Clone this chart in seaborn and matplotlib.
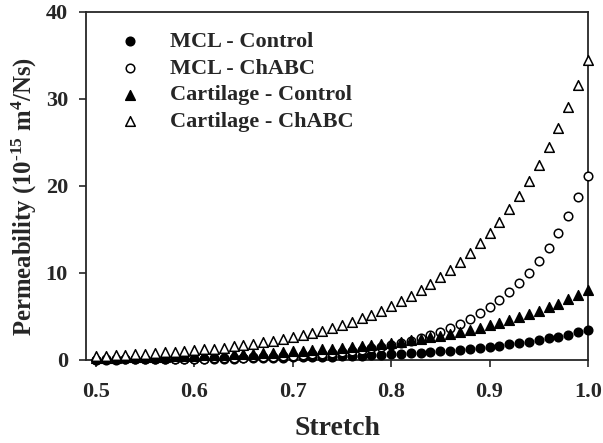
import matplotlib
matplotlib.use("Agg")
import matplotlib.pyplot as plt
import seaborn as sns
import pandas as pd

stretch = [0.50, 0.51, 0.52, 0.53, 0.54, 0.55, 0.56, 0.57, 0.58, 0.59,
           0.60, 0.61, 0.62, 0.63, 0.64, 0.65, 0.66, 0.67, 0.68, 0.69,
           0.70, 0.71, 0.72, 0.73, 0.74, 0.75, 0.76, 0.77, 0.78, 0.79,
           0.80, 0.81, 0.82, 0.83, 0.84, 0.85, 0.86, 0.87, 0.88, 0.89,
           0.90, 0.91, 0.92, 0.93, 0.94, 0.95, 0.96, 0.97, 0.98, 0.99, 1.00]

mcl_control = [0.05, 0.06, 0.06, 0.07, 0.07, 0.08, 0.09, 0.10, 0.11, 0.12,
               0.13, 0.14, 0.15, 0.16, 0.17, 0.19, 0.21, 0.22, 0.24, 0.26,
               0.29, 0.31, 0.34, 0.37, 0.40, 0.43, 0.47, 0.51, 0.55, 0.60,
               0.66, 0.71, 0.77, 0.84, 0.91, 0.99, 1.08, 1.17, 1.28, 1.39,
               1.51, 1.64, 1.78, 1.93, 2.10, 2.28, 2.48, 2.69, 2.92, 3.18, 3.45]

mcl_chabc = [0.04, 0.05, 0.05, 0.06, 0.07, 0.08, 0.09, 0.10, 0.11, 0.13,
             0.14, 0.16, 0.18, 0.21, 0.24, 0.27, 0.30, 0.34, 0.39, 0.44,
             0.50, 0.56, 0.64, 0.72, 0.82, 0.93, 1.05, 1.19, 1.35, 1.54,
             1.74, 1.97, 2.23, 2.53, 2.87, 3.25, 3.68, 4.17, 4.73, 5.36,
             6.07, 6.88, 7.80, 8.84, 10.01, 11.35, 12.86, 14.57, 16.51, 18.71, 21.2]

cart_control = [0.24, 0.26, 0.28, 0.30, 0.32, 0.34, 0.37, 0.39, 0.42, 0.45,
                0.49, 0.52, 0.56, 0.60, 0.64, 0.69, 0.74, 0.79, 0.85, 0.91,
                0.98, 1.05, 1.13, 1.21, 1.30, 1.39, 1.49, 1.60, 1.72, 1.84,
                1.98, 2.12, 2.27, 2.44, 2.61, 2.80, 3.00, 3.22, 3.46, 3.71,
                3.97, 4.26, 4.57, 4.90, 5.26, 5.64, 6.05, 6.49, 6.96, 7.46, 8.00]

cart_chabc = [0.47, 0.51, 0.56, 0.61, 0.66, 0.72, 0.79, 0.86, 0.93, 1.02,
              1.11, 1.21, 1.31, 1.43, 1.56, 1.70, 1.85, 2.02, 2.20, 2.40,
              2.61, 2.85, 3.10, 3.38, 3.69, 4.02, 4.38, 4.77, 5.20, 5.67,
              6.18, 6.73, 7.34, 7.99, 8.71, 9.50, 10.35, 11.28, 12.29, 13.40,
              14.60, 15.91, 17.34, 18.90, 20.59, 22.44, 24.46, 26.65, 29.05, 31.66, 34.5]

sns.set_style("ticks")
plt.rcParams['font.family'] = ['Liberation Serif', 'DejaVu Serif']
plt.rcParams['font.weight'] = 'bold'
plt.rcParams['axes.labelweight'] = 'bold'
plt.rcParams['mathtext.fontset'] = 'custom'
plt.rcParams['mathtext.rm'] = 'Liberation Serif:bold'
plt.rcParams['mathtext.default'] = 'rm'

df = pd.DataFrame({
    "stretch": stretch,
    "MCL - Control": mcl_control,
    "MCL - ChABC": mcl_chabc,
    "Cartilage - Control": cart_control,
    "Cartilage - ChABC": cart_chabc,
})

fig = plt.figure(figsize=(6.03, 4.43), dpi=100)
ax = fig.add_axes([0.1426, 0.1874, 0.8324, 0.7856])

# (column, marker, fill, size)
styles = [
    ("MCL - Control", "o", "black", 38),
    ("MCL - ChABC", "o", "white", 38),
    ("Cartilage - Control", "^", "black", 48),
    ("Cartilage - ChABC", "^", "white", 48),
]
for col, mk, fill, s in styles:
    sns.scatterplot(data=df, x="stretch", y=col, marker=mk, color=fill,
                    edgecolor="black", linewidth=1.1, s=s, clip_on=False,
                    label=col, ax=ax, zorder=3)

ax.set_xlim(0.49, 1.0)
ax.set_ylim(0, 40)
ax.set_xticks([0.5, 0.6, 0.7, 0.8, 0.9, 1.0])
ax.set_xticklabels(["0.5", "0.6", "0.7", "0.8", "0.9", "1.0"])
ax.set_yticks([0, 10, 20, 30, 40])
ax.tick_params(axis="both", labelsize=16, length=5, width=1.2, direction="out",
               top=False, right=False)
ax.tick_params(axis="x", pad=11)
ax.tick_params(axis="y", pad=8)
for sp in ax.spines.values():
    sp.set_linewidth(1.3)
    sp.set_visible(True)

ax.set_xlabel("Stretch", fontsize=20, labelpad=10)
ax.set_ylabel("Permeability (10$^{\u201015}$ m$^{4}$/Ns)", fontsize=17.8, labelpad=5)
ax.yaxis.label.set_y(0.47)

ax.legend(loc="upper left", bbox_to_anchor=(0.026, 0.97), frameon=False,
          fontsize=16, handletextpad=0.8, labelspacing=0.28, borderaxespad=0)

fig.savefig("out.png", dpi=100)
